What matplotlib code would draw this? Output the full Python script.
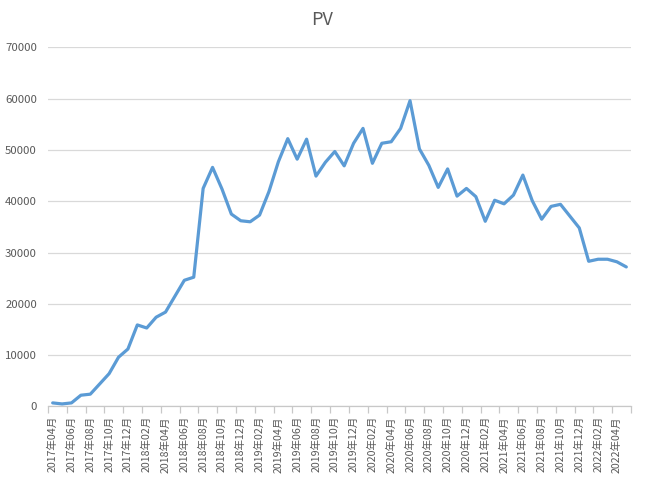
import numpy as np
import pandas as pd
from matplotlib import pyplot as plt

plt.rcParams['font.family'] = ['Noto Sans CJK SC', 'DejaVu Sans']

# monthly categories 2017-04 .. 2022-05
months = [p.strftime('%Y年%m月') for p in pd.period_range('2017-04', '2022-05', freq='M')]
pv = [700, 500, 700, 2200, 2400, 4400, 6400, 9600, 11200, 15900,
      15300, 17400, 18400, 21500, 24600, 25200, 42500, 46600, 42400, 37500,
      36200, 36000, 37300, 41900, 47700, 52200, 48200, 52100, 44900, 47600,
      49700, 46900, 51300, 54200, 47400, 51300, 51600, 54200, 59600, 50200,
      47000, 42700, 46300, 41000, 42500, 40900, 36100, 40200, 39500, 41200,
      45100, 40100, 36500, 39000, 39400, 37100, 34800, 28300, 28700, 28700,
      28200, 27200]
y_ticks = [0, 10000, 20000, 30000, 40000, 50000, 60000, 70000]

fig = plt.figure(figsize=(6.45, 4.83), dpi=100)
ax = fig.add_axes([0.0744, 0.1584, 0.9039, 0.7436])

x = np.arange(len(pv))
ax.plot(x, pv, color='#5B9BD5', linewidth=2.3, solid_joinstyle='round',
        solid_capstyle='round', zorder=3)

ax.set_xlim(-0.5, len(pv) - 0.5)
ax.set_ylim(0, 70000)
ax.set_yticks(y_ticks)
ax.set_yticklabels([str(v) for v in y_ticks])
ax.grid(axis='y', color='#D9D9D9', linewidth=0.9)
ax.set_axisbelow(True)

# tick marks on category boundaries, labels on every second category
ax.set_xticks(np.arange(-0.5, len(pv), 2))
ax.set_xticklabels([])
ax.set_xticks(x[::2], minor=True)
ax.set_xticklabels(months[::2], minor=True, rotation=90, fontsize=7.6,
                   color='#595959')
ax.tick_params(axis='x', which='major', length=5, color='#C8C8C8', width=0.9)
ax.tick_params(axis='x', which='minor', length=0, pad=7)
ax.tick_params(axis='y', length=0, pad=8, labelsize=8.2, labelcolor='#595959')

for s in ['top', 'right', 'left']:
    ax.spines[s].set_visible(False)
ax.spines['bottom'].set_color('#C8C8C8')
ax.spines['bottom'].set_linewidth(0.9)

fig.suptitle('PV', x=0.5, y=0.978, fontsize=13, color='#595959', va='top')

fig.savefig('out.png', dpi=100)
